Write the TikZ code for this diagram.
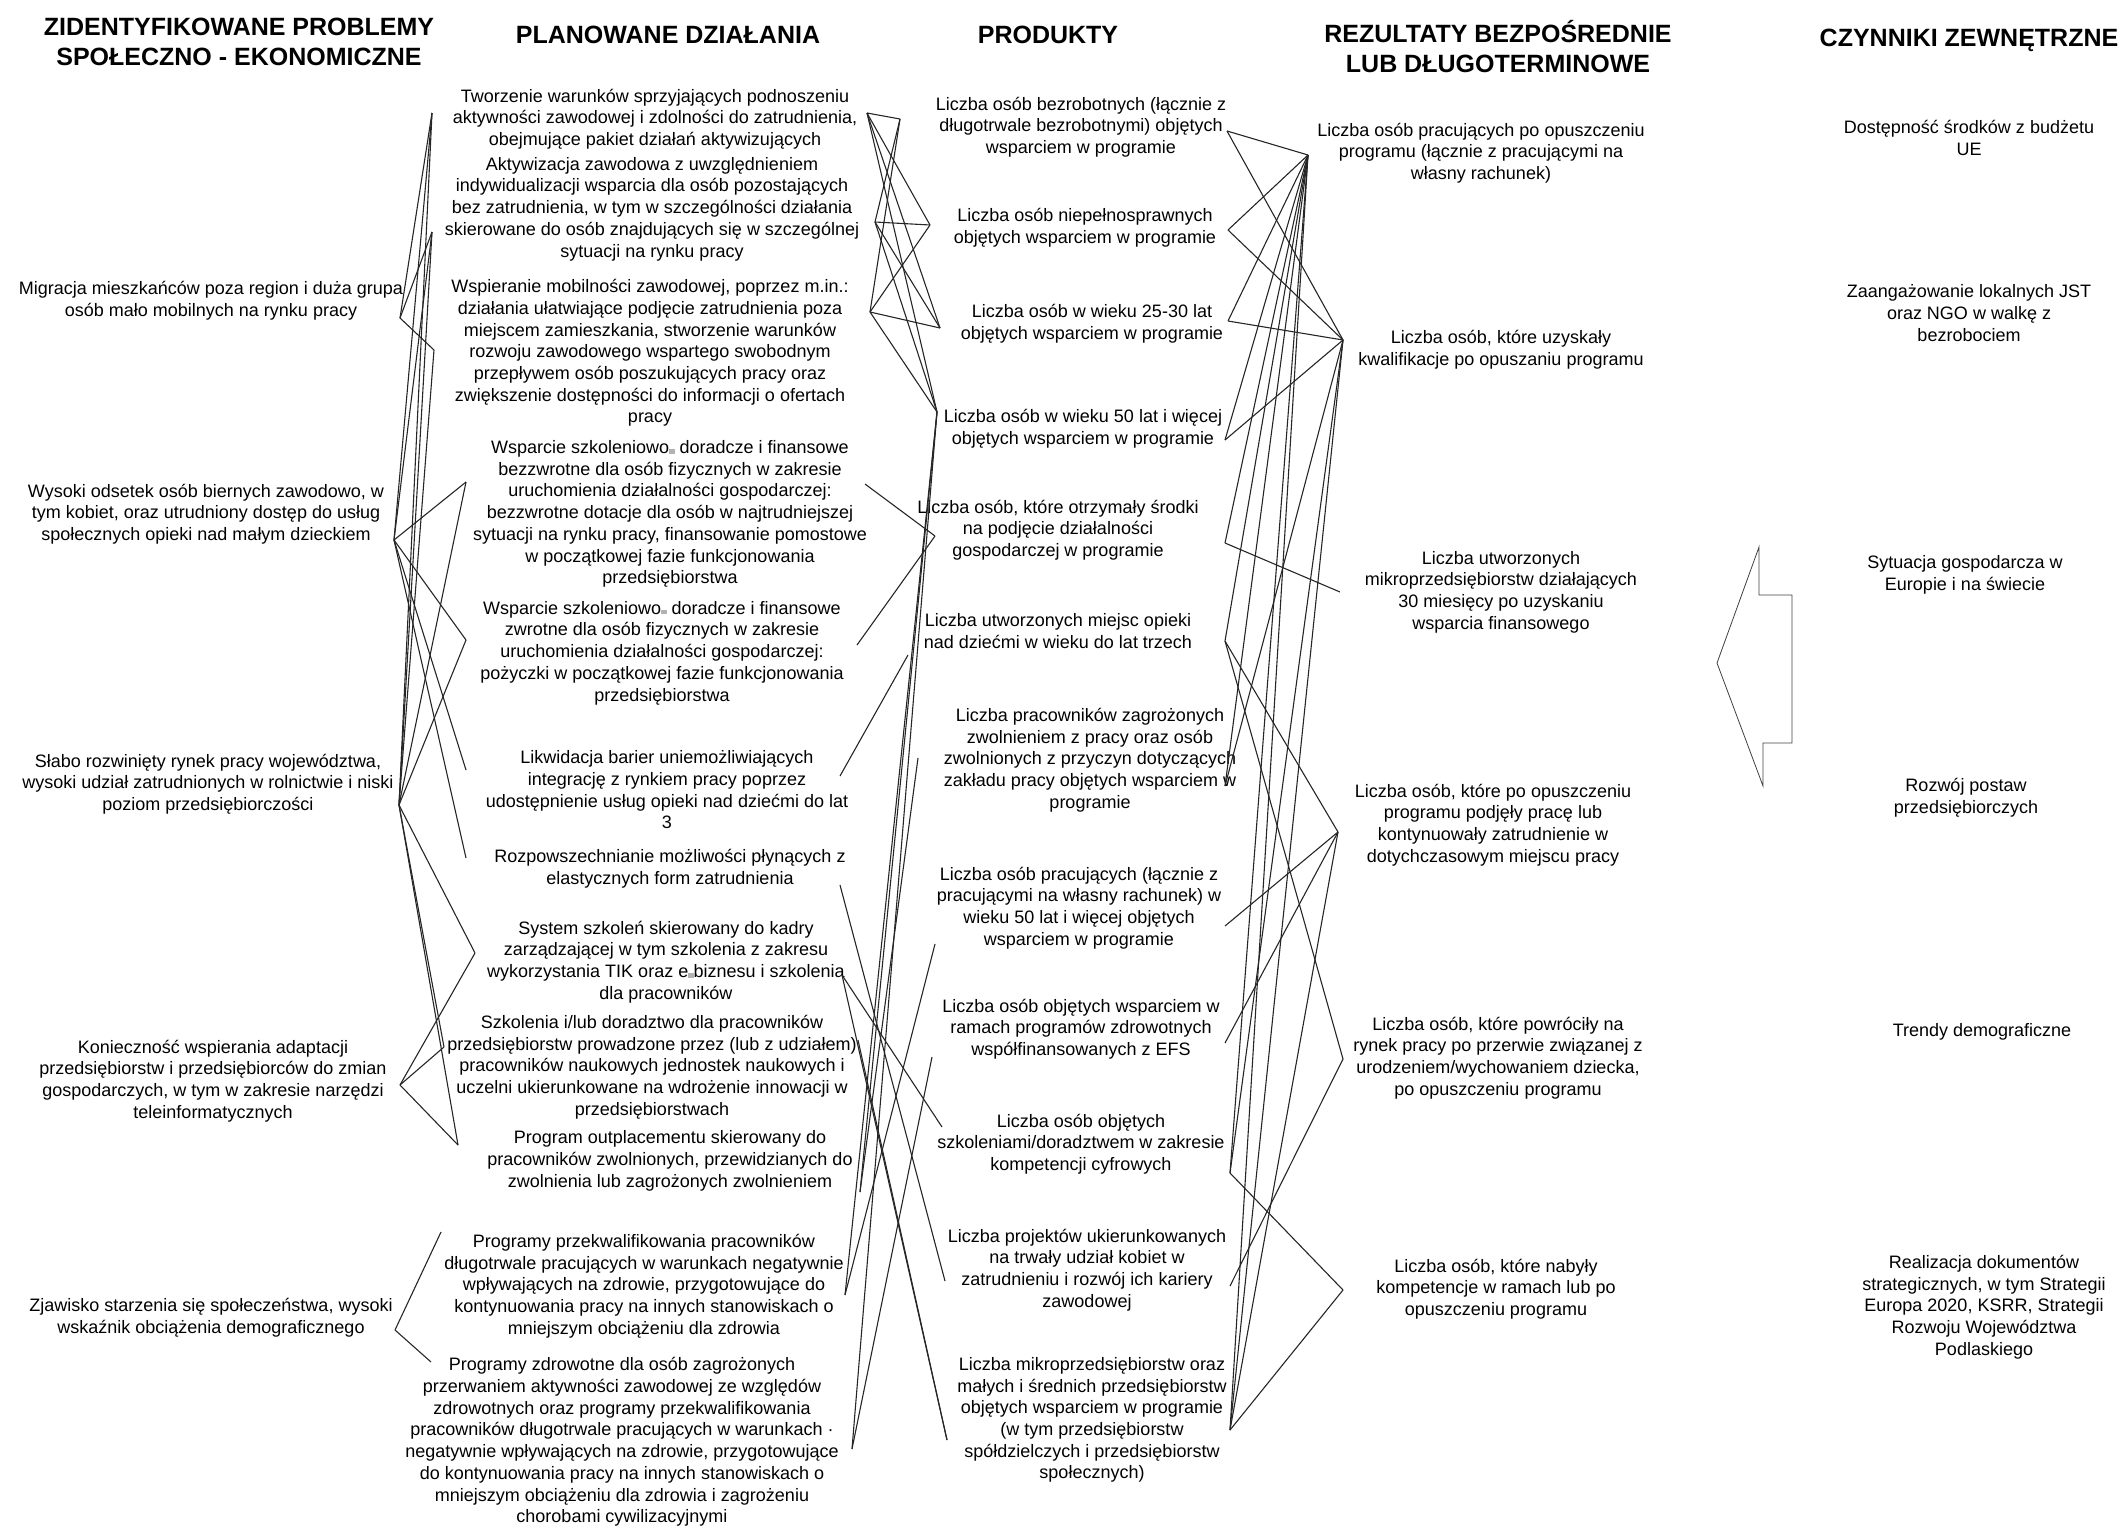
\documentclass[tikz,border=0pt]{standalone}
\usepackage{fontspec}
\setmainfont{Liberation Sans}
\newcommand\gapbox{{\color{black!30}\rule{0.3em}{0.5ex}}}
\begin{document}
\begin{tikzpicture}[x=1pt,y=-1pt,
  txt/.style={align=center,inner sep=0pt,font=\fontsize{18}{21.7}\selectfont},
  hdr/.style={align=center,inner sep=0pt,font=\fontsize{25}{30}\selectfont\bfseries},
  conn/.style={line width=1.1pt,black!85}]
\useasboundingbox (0,0) rectangle (2126,1529);
% headers
\node[hdr] (h1) at (239,42) {ZIDENTYFIKOWANE PROBLEMY\\SPOŁECZNO - EKONOMICZNE};
\node[hdr] (h2) at (668,35) {PLANOWANE DZIAŁANIA};
\node[hdr] (h3) at (1048,35) {PRODUKTY};
\node[hdr] (h4) at (1498,47) {REZULTATY BEZPOŚREDNIE\\LUB DŁUGOTERMINOWE};
\node[hdr] (h5) at (1969,40) {CZYNNIKI ZEWNĘTRZNE};
% column 1
\node[txt] (m) at (211,301) {Migracja mieszkańców poza region i duża grupa\\osób mało mobilnych na rynku pracy};
\node[txt] (w) at (206,514) {Wysoki odsetek osób biernych zawodowo, w\\tym kobiet, oraz utrudniony dostęp do usług\\społecznych opieki nad małym dzieckiem};
\node[txt] (s) at (208,784) {Słabo rozwinięty rynek pracy województwa,\\wysoki udział zatrudnionych w rolnictwie i niski\\poziom przedsiębiorczości};
\node[txt] (k) at (213,1081) {Konieczność wspierania adaptacji\\przedsiębiorstw i przedsiębiorców do zmian\\gospodarczych, w tym w zakresie narzędzi\\teleinformatycznych};
\node[txt] (z) at (211,1318) {Zjawisko starzenia się społeczeństwa, wysoki\\wskaźnik obciążenia demograficznego};
% column 2
\node[txt] (a1) at (655,119) {Tworzenie warunków sprzyjających podnoszeniu\\aktywności zawodowej i zdolności do zatrudnienia,\\obejmujące pakiet działań aktywizujących};
\node[txt] (a2) at (652,209) {Aktywizacja zawodowa z uwzględnieniem\\indywidualizacji wsparcia dla osób pozostających\\bez zatrudnienia, w tym w szczególności działania\\skierowane do osób znajdujących się w szczególnej\\sytuacji na rynku pracy};
\node[txt] (a3) at (650,353) {Wspieranie mobilności zawodowej, poprzez m.in.:\\działania ułatwiające podjęcie zatrudnienia poza\\miejscem zamieszkania, stworzenie warunków\\rozwoju zawodowego wspartego swobodnym\\przepływem osób poszukujących pracy oraz\\zwiększenie dostępności do informacji o ofertach\\pracy};
\node[txt] (a4) at (670,514) {Wsparcie szkoleniowo\gapbox{} doradcze i finansowe\\bezzwrotne dla osób fizycznych w zakresie\\uruchomienia działalności gospodarczej:\\bezzwrotne dotacje dla osób w najtrudniejszej\\sytuacji na rynku pracy, finansowanie pomostowe\\w początkowej fazie funkcjonowania\\przedsiębiorstwa};
\node[txt] (a5) at (662,653) {Wsparcie szkoleniowo\gapbox{} doradcze i finansowe\\zwrotne dla osób fizycznych w zakresie\\uruchomienia działalności gospodarczej:\\pożyczki w początkowej fazie funkcjonowania\\przedsiębiorstwa};
\node[txt] (a6) at (667,790) {Likwidacja barier uniemożliwiających\\integrację z rynkiem pracy poprzez\\udostępnienie usług opieki nad dziećmi do lat\\3};
\node[txt] (a7) at (670,869) {Rozpowszechnianie możliwości płynących z\\elastycznych form zatrudnienia};
\node[txt] (a8) at (666,962) {System szkoleń skierowany do kadry\\zarządzającej w tym szkolenia z zakresu\\wykorzystania TIK oraz e\gapbox{}biznesu i szkolenia\\dla pracowników};
\node[txt] (a9) at (652,1067) {Szkolenia i/lub doradztwo dla pracowników\\przedsiębiorstw prowadzone przez (lub z udziałem)\\pracowników naukowych jednostek naukowych i\\uczelni ukierunkowane na wdrożenie innowacji w\\przedsiębiorstwach};
\node[txt] (a10) at (670,1161) {Program outplacementu  skierowany do\\pracowników zwolnionych, przewidzianych do\\zwolnienia lub zagrożonych zwolnieniem};
\node[txt] (a11) at (644,1286) {Programy przekwalifikowania pracowników\\długotrwale pracujących w warunkach negatywnie\\wpływających na zdrowie, przygotowujące do\\kontynuowania pracy na innych stanowiskach o\\mniejszym obciążeniu dla zdrowia};
\node[txt] (a12) at (622,1442) {Programy zdrowotne dla osób zagrożonych\\przerwaniem aktywności  zawodowej ze względów\\zdrowotnych oraz programy przekwalifikowania\\pracowników długotrwale pracujących w warunkach ·\\negatywnie wpływających na zdrowie, przygotowujące\\do kontynuowania pracy na innych stanowiskach o\\mniejszym obciążeniu dla zdrowia  i zagrożeniu\\chorobami cywilizacyjnymi};
% column 3
\node[txt] (p1) at (1081,127) {Liczba osób bezrobotnych (łącznie z\\długotrwale bezrobotnymi) objętych\\wsparciem w programie};
\node[txt] (p2) at (1085,228) {Liczba osób niepełnosprawnych\\objętych wsparciem w programie};
\node[txt] (p3) at (1092,324) {Liczba osób w wieku 25-30 lat\\objętych wsparciem w programie};
\node[txt] (p4) at (1083,429) {Liczba osób w wieku 50 lat i więcej\\objętych wsparciem w programie};
\node[txt] (p5) at (1058,530) {Liczba osób, które otrzymały środki\\na podjęcie działalności\\gospodarczej w programie};
\node[txt] (p6) at (1058,631) {Liczba utworzonych miejsc opieki\\nad dziećmi w wieku do lat trzech};
\node[txt] (p7) at (1090,760) {Liczba pracowników zagrożonych\\zwolnieniem z pracy oraz osób\\zwolnionych z przyczyn dotyczących\\zakładu pracy objętych wsparciem w\\programie};
\node[txt] (p8) at (1079,908) {Liczba osób pracujących (łącznie z\\pracującymi na własny rachunek) w\\wieku 50 lat i więcej objętych\\wsparciem w programie};
\node[txt] (p9) at (1081,1029) {Liczba osób objętych wsparciem w\\ramach programów zdrowotnych\\współfinansowanych z EFS};
\node[txt] (p10) at (1081,1144) {Liczba osób objętych\\szkoleniami/doradztwem w zakresie\\kompetencji cyfrowych};
\node[txt] (p11) at (1087,1270) {Liczba projektów ukierunkowanych\\na trwały udział kobiet w\\zatrudnieniu i rozwój ich kariery\\zawodowej};
\node[txt] (p12) at (1092,1420) {Liczba mikroprzedsiębiorstw oraz\\małych i średnich przedsiębiorstw\\objętych wsparciem w programie\\(w tym przedsiębiorstw\\spółdzielczych i przedsiębiorstw\\społecznych)};
% column 4
\node[txt] (r1) at (1481,153) {Liczba osób pracujących po opuszczeniu\\programu (łącznie z pracującymi na\\własny rachunek)};
\node[txt] (r2) at (1501,350) {Liczba osób, które uzyskały\\kwalifikacje po opuszaniu programu};
\node[txt] (r3) at (1501,592) {Liczba utworzonych\\mikroprzedsiębiorstw działających\\30 miesięcy po uzyskaniu\\wsparcia finansowego};
\node[txt] (r4) at (1493,825) {Liczba osób, które po opuszczeniu\\programu podjęły pracę lub\\kontynuowały zatrudnienie w\\dotychczasowym miejscu pracy};
\node[txt] (r5) at (1498,1058) {Liczba osób, które powróciły na\\rynek pracy po przerwie związanej z\\urodzeniem/wychowaniem dziecka,\\po opuszczeniu programu};
\node[txt] (r6) at (1496,1289) {Liczba osób, które nabyły\\kompetencje w ramach lub po\\opuszczeniu programu};
% column 5
\node[txt] (e1) at (1969,138) {Dostępność środków z budżetu\\UE};
\node[txt] (e2) at (1969,313) {Zaangażowanie lokalnych JST\\oraz NGO w walkę z\\bezrobociem};
\node[txt] (e3) at (1965,575) {Sytuacja gospodarcza w\\Europie i na świecie};
\node[txt] (e4) at (1966,798) {Rozwój postaw\\przedsiębiorczych};
\node[txt] (e5) at (1982,1032) {Trendy demograficzne};
\node[txt] (e6) at (1984,1307) {Realizacja dokumentów\\strategicznych, w tym Strategii\\Europa 2020, KSRR, Strategii\\Rozwoju Województwa\\Podlaskiego};
% block arrow
\draw[line width=0.8pt,black!75] (1717,663) -- (1759,547) -- (1759,595) -- (1792,595) -- (1792,743) -- (1763,743) -- (1763,786) -- cycle;
% anchor coordinates
\coordinate (mR) at (400,318);
\coordinate (wR) at (394,540);
\coordinate (sR) at (399,805);
\coordinate (kR) at (400,1085);
\coordinate (zR) at (395,1330);
\coordinate (a1L) at (432,113);
\coordinate (a2L) at (432,232);
\coordinate (a3L) at (434,350);
\coordinate (a4L) at (466,482);
\coordinate (a5L) at (466,640);
\coordinate (a6L) at (466,770);
\coordinate (a7L) at (466,858);
\coordinate (a8L) at (475,953);
\coordinate (a9L) at (444,1047);
\coordinate (a10L) at (458,1145);
\coordinate (a11L) at (441,1232);
\coordinate (a12L) at (431,1362);
\coordinate (a1R) at (867,113);
\coordinate (a2R) at (875,222);
\coordinate (a3R) at (870,312);
\coordinate (a4R) at (865,484);
\coordinate (a5R) at (857,645);
\coordinate (a6R) at (840,776);
\coordinate (a7R) at (840,885);
\coordinate (a8R) at (842,975);
\coordinate (a9R) at (858,1040);
\coordinate (a10R) at (860,1192);
\coordinate (a11R) at (845,1295);
\coordinate (a12R) at (852,1449);
\coordinate (p1L) at (900,119);
\coordinate (p2L) at (930,225);
\coordinate (p3L) at (940,328);
\coordinate (p4L) at (937,412);
\coordinate (p5L) at (935,536);
\coordinate (p6L) at (908,655);
\coordinate (p7L) at (918,758);
\coordinate (p8L) at (935,944);
\coordinate (p9L) at (932,1057);
\coordinate (p10L) at (942,1127);
\coordinate (p11L) at (945,1281);
\coordinate (p12L) at (947,1440);
\coordinate (p1R) at (1227,131);
\coordinate (p2R) at (1228,230);
\coordinate (p3R) at (1228,321);
\coordinate (p4R) at (1225,440);
\coordinate (p5R) at (1225,543);
\coordinate (p6R) at (1225,641);
\coordinate (p7R) at (1225,786);
\coordinate (p8R) at (1225,926);
\coordinate (p9R) at (1225,1043);
\coordinate (p10R) at (1230,1173);
\coordinate (p11R) at (1230,1286);
\coordinate (p12R) at (1230,1430);
\coordinate (r1L) at (1308,155);
\coordinate (r2L) at (1343,340);
\coordinate (r3L) at (1340,592);
\coordinate (r4L) at (1338,832);
\coordinate (r5L) at (1343,1059);
\coordinate (r6L) at (1343,1290);
% column 1 -> column 2
\foreach \f/\t in {mR/a1L,mR/a2L,mR/a3L,
  wR/a1L,wR/a2L,wR/a4L,wR/a5L,wR/a6L,wR/a7L,
  sR/a1L,sR/a2L,sR/a3L,sR/a4L,sR/a5L,sR/a8L,sR/a9L,sR/a10L,
  kR/a8L,kR/a9L,kR/a10L,
  zR/a11L,zR/a12L}
  \draw[conn] (\f) -- (\t);
% column 2 -> column 3
\foreach \f/\t in {a1R/p1L,a1R/p2L,a1R/p3L,a1R/p4L,
  a2R/p1L,a2R/p2L,a2R/p3L,a2R/p4L,
  a3R/p1L,a3R/p2L,a3R/p3L,a3R/p4L,
  a4R/p5L,a5R/p5L,a6R/p6L,a7R/p11L,a8R/p10L,a8R/p12L,a9R/p12L,
  a10R/p7L,a10R/p4L,a11R/p4L,a11R/p8L,a12R/p4L,a12R/p9L}
  \draw[conn] (\f) -- (\t);
% column 3 -> column 4
\foreach \f/\t in {p1R/r1L,p1R/r2L,p2R/r1L,p2R/r2L,p3R/r1L,p3R/r2L,
  p4R/r1L,p4R/r2L,p5R/r1L,p5R/r3L,p6R/r1L,p6R/r4L,p6R/r5L,
  p7R/r1L,p7R/r2L,p8R/r4L,p9R/r4L,p10R/r1L,p10R/r2L,p10R/r6L,
  p11R/r5L,p12R/r1L,p12R/r2L,p12R/r4L,p12R/r6L}
  \draw[conn] (\f) -- (\t);
\end{tikzpicture}
\end{document}
